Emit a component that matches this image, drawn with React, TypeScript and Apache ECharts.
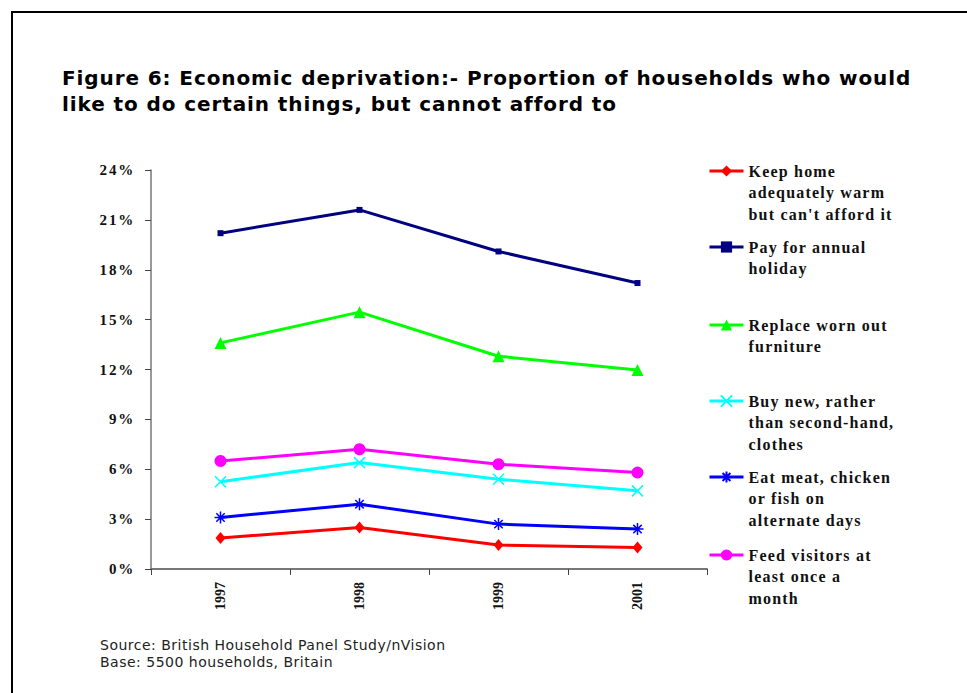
import React, { useEffect, useRef } from "react";
import * as echarts from "echarts";

const years = ["1997", "1998", "1999", "2001"];
const keepWarm = [1.86, 2.5, 1.44, 1.3];
const holiday = [20.2, 21.6, 19.1, 17.2];
const furniture = [13.6, 15.45, 12.8, 11.97];
const clothes = [5.25, 6.4, 5.4, 4.7];
const meat = [3.1, 3.9, 2.7, 2.4];
const visitors = [6.5, 7.2, 6.3, 5.8];

const names = [
  "Keep home\nadequately warm\nbut can't afford it",
  "Pay for annual\nholiday",
  "Replace worn out\nfurniture",
  "Buy new, rather\nthan second-hand,\nclothes",
  "Eat meat, chicken\nor fish on\nalternate days",
  "Feed visitors at\nleast once a\nmonth",
];
const colors = ["#ff0000", "#000080", "#00ff00", "#00ffff", "#0000ff", "#ff00ff"];
const values = [keepWarm, holiday, furniture, clothes, meat, visitors];
const symbols = [
  "diamond",
  "rect",
  "triangle",
  "path://M0,0L10,10M10,0L0,10",
  "path://M5,0L5,10M0,5L10,5M1.5,1.5L8.5,8.5M8.5,1.5L1.5,8.5",
  "circle",
];
const symbolSizes: any[] = [[10, 12], 6, 12, 11, 12, 12];
const legendCenters = [171, 247, 325, 401, 477, 555];

const SERIF = "'Liberation Serif', 'Times New Roman', serif";
const LH = 21.5;

export default function App() {
  const ref = useRef<HTMLDivElement>(null);
  useEffect(() => {
    const chart = echarts.init(ref.current!, undefined, { renderer: "svg" });
    const series = names.map((n, i) => {
      const stroke = symbols[i].startsWith("path://");
      return {
        name: n,
        type: "line",
        data: values[i],
        symbol: symbols[i],
        symbolSize: symbolSizes[i],
        lineStyle: { color: colors[i], width: 3 },
        itemStyle: {
          color: colors[i],
          borderColor: colors[i],
          borderWidth: stroke ? 1.5 : 0,
        },
        z: 10 - i,
      };
    });
    const legends = names.map((n, i) => {
      const lines = n.split("\n").length;
      return {
        data: [n],
        left: 708,
        top: legendCenters[i] - ((2 * lines - 1) * LH) / 2,
        orient: "vertical",
        padding: 0,
        itemWidth: 34,
        itemHeight: 14,
        selectedMode: false,
        lineStyle: { width: 3 },
        formatter: (name: string) => "\n".repeat(lines - 1) + name,
        textStyle: {
          fontFamily: SERIF,
          fontWeight: "bold",
          fontSize: 16,
          color: "#111",
          lineHeight: LH,
        },
      };
    });
    chart.setOption({
      animation: false,
      title: [
        {
          text:
            "Figure 6: Economic deprivation:- Proportion of households who would\nlike to do certain things, but cannot afford to",
          left: 62,
          top: 65,
          padding: 0,
          textStyle: {
            fontFamily: "'DejaVu Sans', Verdana, sans-serif",
            fontWeight: "bold",
            fontSize: 20,
            lineHeight: 26,
            color: "#000",
          },
        },
        {
          text: "Source: British Household Panel Study/nVision\nBase: 5500 households, Britain",
          left: 100,
          top: 636,
          padding: 0,
          textStyle: {
            fontFamily: "'DejaVu Sans', Tahoma, sans-serif",
            fontWeight: "normal",
            fontSize: 14,
            lineHeight: 17,
            color: "#222",
          },
        },
      ],
      graphic: [
        {
          type: "rect",
          shape: { x: 12, y: 12, width: 1000, height: 1000 },
          style: { fill: "none", stroke: "#000", lineWidth: 2 },
          silent: true,
        },
      ],
      legend: legends,
      grid: { left: 151, top: 170, width: 556, height: 399, containLabel: false },
      xAxis: {
        type: "category",
        data: years,
        boundaryGap: true,
        axisLine: { lineStyle: { color: "#777", width: 1.8 } },
        axisTick: { show: true, length: 6, inside: false, lineStyle: { color: "#444" } },
        axisLabel: {
          rotate: 90,
          margin: 13,
          fontFamily: SERIF,
          fontWeight: "bold",
          fontSize: 14,
          color: "#111",
        },
        splitLine: { show: false },
      },
      yAxis: {
        type: "value",
        min: 0,
        max: 24,
        interval: 3,
        axisLine: { show: true, lineStyle: { color: "#777", width: 1.5 } },
        axisTick: { show: true, length: 6, inside: false, lineStyle: { color: "#444" } },
        axisLabel: {
          formatter: "{value}%",
          margin: 16,
          fontFamily: SERIF,
          fontWeight: "bold",
          fontSize: 15,
          color: "#111",
        },
        splitLine: { show: false },
      },
      series,
    });
    return () => chart.dispose();
  }, []);
  return (
    <>
      <style>{`
        #chart-box text[style*="16px"][style*="Liberation Serif"] { letter-spacing: 1.2px; }
        #chart-box text[style*="15px"][style*="Liberation Serif"] { letter-spacing: 1.8px; }
        #chart-box text[style*="20px"][style*="DejaVu Sans"] { letter-spacing: 0.9px; }
        #chart-box text[style*="14px"][style*="DejaVu Sans"] { letter-spacing: 0.5px; }
      `}</style>
      <div
        id="chart-box"
        ref={ref}
        style={{ position: "absolute", left: 0, top: 0, width: 967, height: 693 }}
      />
    </>
  );
}
